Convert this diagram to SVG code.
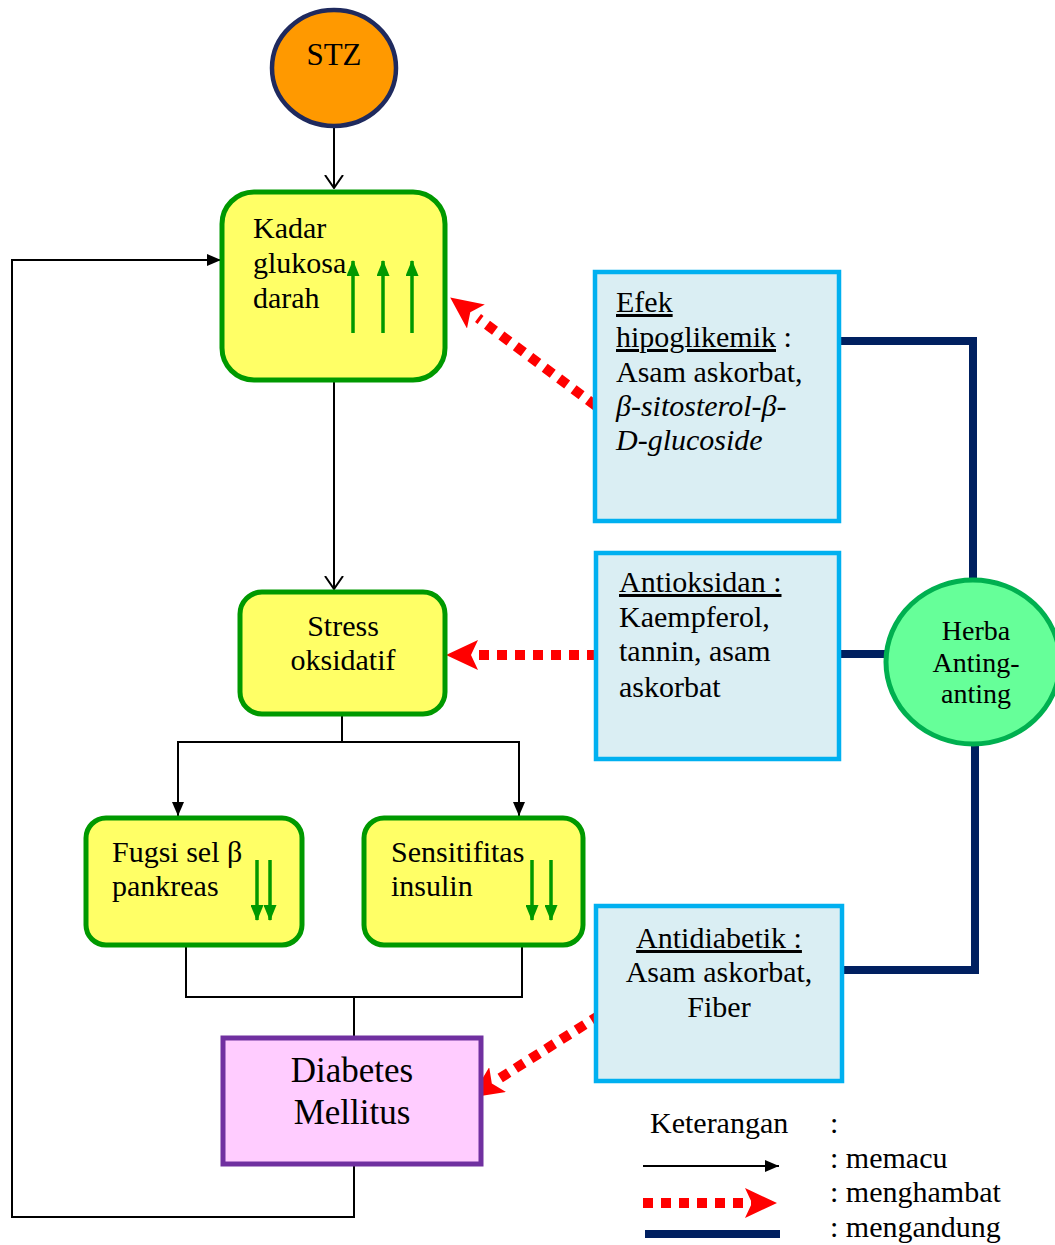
<svg xmlns="http://www.w3.org/2000/svg" width="1055" height="1245" viewBox="0 0 1055 1245">
<defs>
<style>
text{font-family:"Liberation Serif","Times New Roman",serif;fill:#000;}
.t26{font-size:30px;}
.t32{font-size:35px;}
.ybox{fill:#ffff66;stroke:#009900;stroke-width:5;}
.bbox{fill:#daeef3;stroke:#00b0f0;stroke-width:4.5;}
.blk{fill:none;stroke:#000;stroke-width:2;}
.navy{fill:none;stroke:#002060;stroke-width:8;}
.red{fill:none;stroke:#ff0000;stroke-width:10;stroke-dasharray:10 8;}
.grn{stroke:#009900;stroke-width:3.5;fill:none;}
</style>
<marker id="tri" viewBox="0 0 14 12" refX="14" refY="6" markerWidth="14" markerHeight="12" markerUnits="userSpaceOnUse" orient="auto">
<path d="M0,0 L14,6 L0,12 Z" fill="#000"/>
</marker>
<marker id="vee" viewBox="0 0 14 20" refX="13" refY="10" markerWidth="14" markerHeight="20" markerUnits="userSpaceOnUse" orient="auto">
<path d="M0,1 L13,10 L0,19" fill="none" stroke="#000" stroke-width="2"/>
</marker>
<marker id="gtri" viewBox="0 0 16 13" refX="15" refY="6.5" markerWidth="16" markerHeight="13" markerUnits="userSpaceOnUse" orient="auto">
<path d="M0,0 L16,6.5 L0,13 Z" fill="#009900"/>
</marker>
<marker id="redh" viewBox="0 0 32 30" refX="31" refY="15" markerWidth="32" markerHeight="30" markerUnits="userSpaceOnUse" orient="auto">
<path d="M0,0 L32,15 L0,30 L7,15 Z" fill="#ff0000"/>
</marker>
</defs>

<g id="connectors">
<line class="blk" x1="334" y1="128" x2="334" y2="188" marker-end="url(#vee)"/>
<line class="blk" x1="334" y1="381" x2="334" y2="589" marker-end="url(#vee)"/>
<polyline class="blk" points="342,715 342,742 178,742 178,816" marker-end="url(#tri)"/>
<polyline class="blk" points="342,742 519,742 519,816" marker-end="url(#tri)"/>
<polyline class="blk" points="186,946 186,997 522,997 522,946"/>
<line class="blk" x1="354" y1="997" x2="354" y2="1038"/>
<polyline class="blk" points="354,1165 354,1217 12,1217 12,260 221,260" marker-end="url(#tri)"/>
<line class="red" x1="596" y1="406" x2="478" y2="318"/>
<line x1="478" y1="318" x2="451" y2="298" stroke="none" marker-end="url(#redh)"/>
<line class="red" x1="597" y1="655" x2="478" y2="655"/>
<line x1="478" y1="655" x2="447" y2="655" stroke="none" marker-end="url(#redh)"/>
<line class="red" x1="600" y1="1015" x2="497" y2="1080"/>
<line x1="497" y1="1080" x2="472" y2="1097" stroke="none" marker-end="url(#redh)"/>
<polyline class="navy" points="839,341 973,341 973,581"/>
<line class="navy" x1="839" y1="654" x2="887" y2="654"/>
<polyline class="navy" points="975,744 975,970 842,970"/>
</g>

<g id="stz">
<ellipse cx="334" cy="68" rx="62" ry="58" fill="#ff9900" stroke="#1f2a5e" stroke-width="4.5"/>
<text x="334" y="65" text-anchor="middle" style="font-size:31px">STZ</text>
</g>

<g id="kadar">
<rect class="ybox" x="222" y="192" width="223" height="188" rx="32"/>
<text class="t26" x="253" y="238">Kadar</text>
<text class="t26" x="253" y="273">glukosa</text>
<text class="t26" x="253" y="308">darah</text>
<line class="grn" x1="353" y1="333" x2="353" y2="261" marker-end="url(#gtri)"/>
<line class="grn" x1="383" y1="333" x2="383" y2="261" marker-end="url(#gtri)"/>
<line class="grn" x1="412" y1="333" x2="412" y2="261" marker-end="url(#gtri)"/>
</g>

<g id="stress">
<rect class="ybox" x="240" y="592" width="205" height="122" rx="22"/>
<text class="t26" x="343" y="636" text-anchor="middle">Stress</text>
<text class="t26" x="343" y="670" text-anchor="middle">oksidatif</text>
</g>

<g id="fugsi">
<rect class="ybox" x="86" y="818" width="216" height="127" rx="20"/>
<text class="t26" x="112" y="862">Fugsi sel β</text>
<text class="t26" x="112" y="896">pankreas</text>
<line class="grn" x1="257" y1="860" x2="257" y2="920" marker-end="url(#gtri)"/>
<line class="grn" x1="270" y1="860" x2="270" y2="920" marker-end="url(#gtri)"/>
</g>

<g id="sensitifitas">
<rect class="ybox" x="364" y="818" width="219" height="127" rx="20"/>
<text class="t26" x="391" y="862">Sensitifitas</text>
<text class="t26" x="391" y="896">insulin</text>
<line class="grn" x1="532" y1="860" x2="532" y2="920" marker-end="url(#gtri)"/>
<line class="grn" x1="551" y1="860" x2="551" y2="920" marker-end="url(#gtri)"/>
</g>

<g id="diabetes">
<rect x="223" y="1038" width="258" height="126" fill="#ffccff" stroke="#7030a0" stroke-width="5"/>
<text class="t32" x="352" y="1082" text-anchor="middle">Diabetes</text>
<text class="t32" x="352" y="1124" text-anchor="middle">Mellitus</text>
</g>

<g id="efek">
<rect class="bbox" x="595" y="272" width="244" height="249"/>
<text class="t26" x="616" y="312" text-decoration="underline">Efek</text>
<text class="t26" x="616" y="347"><tspan text-decoration="underline">hipoglikemik</tspan> :</text>
<text class="t26" x="616" y="382">Asam askorbat,</text>
<text class="t26" x="616" y="416" font-style="italic">β-sitosterol-β-</text>
<text class="t26" x="616" y="450" font-style="italic">D-glucoside</text>
</g>

<g id="antioksidan">
<rect class="bbox" x="596" y="553" width="243" height="206"/>
<text class="t26" x="619" y="592" text-decoration="underline">Antioksidan :</text>
<text class="t26" x="619" y="627">Kaempferol,</text>
<text class="t26" x="619" y="661">tannin, asam</text>
<text class="t26" x="619" y="697">askorbat</text>
</g>

<g id="antidiabetik">
<rect class="bbox" x="596" y="906" width="246" height="175"/>
<text class="t26" x="719" y="948" text-anchor="middle" text-decoration="underline">Antidiabetik :</text>
<text class="t26" x="719" y="982" text-anchor="middle">Asam askorbat,</text>
<text class="t26" x="719" y="1017" text-anchor="middle">Fiber</text>
</g>

<g id="herba">
<ellipse cx="973" cy="662" rx="87" ry="82" fill="#66ff99" stroke="#00b050" stroke-width="5"/>
<text x="976" y="640" text-anchor="middle" style="font-size:28px">Herba</text>
<text x="976" y="672" text-anchor="middle" style="font-size:28px">Anting-</text>
<text x="976" y="703" text-anchor="middle" style="font-size:28px">anting</text>
</g>

<g id="legend">
<text class="t26" x="650" y="1133">Keterangan</text>
<text class="t26" x="830" y="1133">:</text>
<text class="t26" x="830" y="1168">: memacu</text>
<text class="t26" x="830" y="1202">: menghambat</text>
<text class="t26" x="830" y="1237">: mengandung</text>
<line class="blk" x1="643" y1="1166" x2="779" y2="1166" marker-end="url(#tri)"/>
<line class="red" x1="643" y1="1203" x2="752" y2="1203"/>
<line x1="745" y1="1203" x2="776" y2="1203" stroke="none" marker-end="url(#redh)"/>
<line class="navy" x1="645" y1="1234" x2="780" y2="1234"/>
</g>
</svg>
